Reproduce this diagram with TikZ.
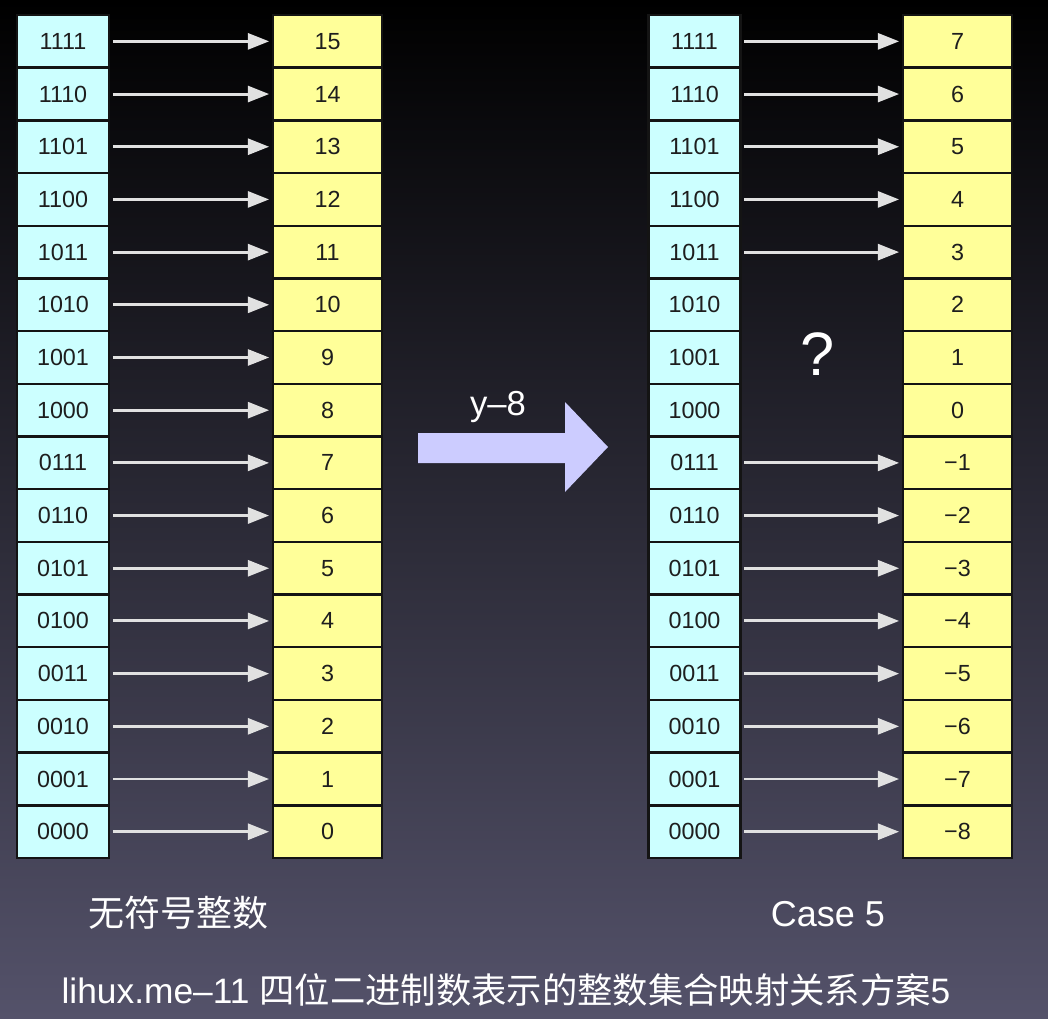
\documentclass[tikz,border=0pt]{standalone}
\usepackage{fontspec}
\setmainfont{Liberation Sans}
\newfontfamily\cjk{Noto Sans CJK SC}
\usetikzlibrary{arrows.meta}

\definecolor{bgtop}{RGB}{0,0,0}
\definecolor{bgmid}{RGB}{20,18,42}
\definecolor{bgbot}{RGB}{84,82,106}
\definecolor{bincyan}{RGB}{204,255,255}
\definecolor{valyellow}{RGB}{255,255,153}
\definecolor{boxline}{RGB}{20,20,20}
\definecolor{boxtext}{RGB}{30,30,30}
\definecolor{arrowgray}{RGB}{225,225,225}
\definecolor{shiftlilac}{RGB}{204,204,255}

\begin{document}
\begin{tikzpicture}[x=0.75pt,y=0.75pt,yscale=-1,
  binbox/.style={draw=boxline,line width=1.8pt,fill=bincyan,minimum width=69pt,minimum height=39.52pt,inner sep=0pt,text=boxtext,font=\fontsize{17.5}{17.5}\selectfont},
  valbox/.style={binbox,fill=valyellow,minimum width=81.75pt},
  maparrow/.style={draw=arrowgray,line width=2.2pt,-{Triangle[length=16pt,width=12pt]},shorten <=2pt,shorten >=2pt},
  caplabel/.style={text=white,inner sep=0pt}]
\useasboundingbox (0,0) rectangle (1048,1018);

%Background
\shade [top color=bgtop,middle color=bgmid,bottom color=bgbot] (0,0) rectangle (1048,1018);

%Rows of both tables
\foreach \bits/\uval/\sval [count=\i from 0] in {1111/15/7,1110/14/6,1101/13/5,1100/12/4,1011/11/3,1010/10/2,1001/9/1,1000/8/0,0111/7/−1,0110/6/−2,0101/5/−3,0100/4/−4,0011/3/−5,0010/2/−6,0001/1/−7,0000/0/−8} {
  \node [binbox] (lb\i) at (63,{41.35+52.69*\i}) {\bits};
  \node [valbox] (lv\i) at (327.5,{41.35+52.69*\i}) {\uval};
  \node [binbox] (rb\i) at (694.5,{41.35+52.69*\i}) {\bits};
  \node [valbox] (rv\i) at (957.5,{41.35+52.69*\i}) {\sval};
  \draw [maparrow] (lb\i) -- (lv\i);
}
%Arrows of case 5 (1010, 1001, 1000 left open)
\foreach \i in {0,1,2,3,4,8,9,...,15}
  \draw [maparrow] (rb\i) -- (rv\i);

%Shape: Big arrow
\fill [shiftlilac] (418,433) -- (565,433) -- (565,402) -- (608,447) -- (565,492) -- (565,463) -- (418,463) -- cycle ;

% Text Node
\node [caplabel,anchor=base,font=\fontsize{26}{26}\selectfont] (shiftlbl) at (498,415) {y–8};
% Text Node
\node [caplabel,anchor=base,font=\fontsize{46}{46}\selectfont] (qmark) at (818,375) {?};
% Text Node
\node [caplabel,font=\cjk\fontsize{27}{27}\selectfont] (unsignedlbl) at (178,913) {无符号整数};
% Text Node
\node [caplabel,font=\fontsize{27}{27}\selectfont] (caselbl) at (828,914) {Case 5};
% Text Node
\node [caplabel,font=\fontsize{26.5}{26.5}\selectfont] (titlelbl) at (506,990) {lihux.me–11 {\cjk 四位二进制数表示的整数集合映射关系方案}5};

\end{tikzpicture}
\end{document}
